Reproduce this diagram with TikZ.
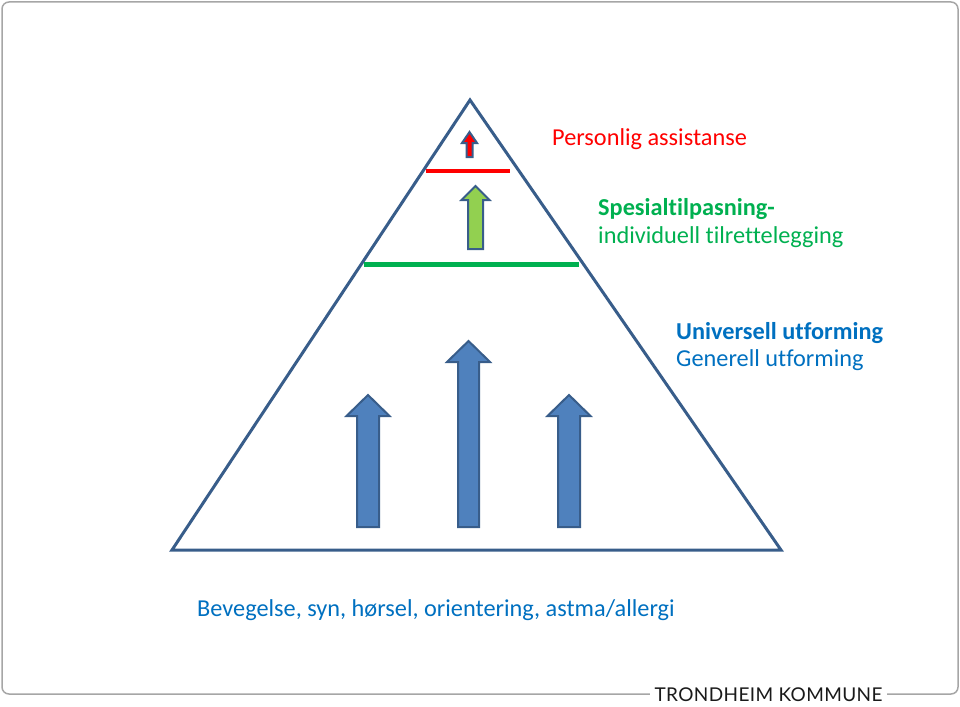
\documentclass[tikz,border=0pt]{standalone}
\usepackage{fontspec}
\setmainfont{Carlito}[Ligatures={NoCommon}]
\newfontfamily\logofont[LetterSpace=2]{Lato}
\definecolor{LineClr}{HTML}{385D8A}
\definecolor{ArrowClr}{HTML}{4F81BD}
\definecolor{LimeClr}{HTML}{92D050}
\definecolor{RedClr}{HTML}{FF0000}
\definecolor{GreenClr}{HTML}{00B050}
\definecolor{BlueClr}{HTML}{0070C0}
\definecolor{FrameClr}{HTML}{A6A6A6}
\definecolor{LogoClr}{HTML}{1A1A1A}

% block arrow: fill, x, tip y, head y, bottom y, head half width, shaft half width
\newcommand{\blockarrow}[7]{%
  \filldraw[arrowline,fill=#1] (#2,#3) -- (#2+#6,#4) -- (#2+#7,#4) -- (#2+#7,#5)
    -- (#2-#7,#5) -- (#2-#7,#4) -- (#2-#6,#4) -- cycle;}

\begin{document}
\begin{tikzpicture}[x=1pt,y=-1pt,
  arrowline/.style={draw=LineClr,line width=2pt,line join=miter},
  label/.style={anchor=base west,inner sep=0pt,font=\fontsize{24.3}{28}\selectfont}]
\useasboundingbox (0,0) rectangle (960,706);

% Frame of the slide.
\draw[FrameClr,line width=1.5pt,rounded corners=7pt] (2,2) rectangle (958,694);
\node[fill=white,inner xsep=5pt,inner ysep=2pt,text=LogoClr,
  font=\logofont\fontsize{19}{21}\selectfont] (logo) at (768.5,695) {TRONDHEIM KOMMUNE};

% Corners of the pyramid.
\coordinate (T) at (470,100);
\coordinate (L) at (172,550);
\coordinate (R) at (781,550);
\draw[LineClr,line width=3pt,line join=miter] (T) -- (L) -- (R) -- cycle;

% Levels.
\coordinate (r1) at (426,171);
\coordinate (r2) at (510,171);
\coordinate (g1) at (364,264);
\coordinate (g2) at (579,264);
\draw[RedClr,line width=4pt] (r1) -- (r2);
\draw[GreenClr,line width=5pt] (g1) -- (g2);

% Arrows.
\blockarrow{RedClr}{469.5}{132}{143}{157}{7.5}{3}
\blockarrow{LimeClr}{475.5}{186}{200}{249}{14}{7.5}
\blockarrow{ArrowClr}{368}{395}{416}{527}{21.5}{11}
\blockarrow{ArrowClr}{468.5}{341}{362}{527}{21.5}{10.5}
\blockarrow{ArrowClr}{569}{395}{416}{527}{21.5}{11}

% Texts.
\node[label,text=RedClr] (pers) at (552,146) {Personlig assistanse};
\node[label,text=GreenClr,font=\bfseries\fontsize{24.3}{28}\selectfont] (spes) at (598,215) {Spesialtilpasning-};
\node[label,text=GreenClr] (indiv) at (598,243) {individuell tilrettelegging};
\node[label,text=BlueClr,font=\bfseries\fontsize{24.3}{28}\selectfont] (univ) at (676,339) {Universell utforming};
\node[label,text=BlueClr] (gen) at (676,366) {Generell utforming};
\node[label,text=BlueClr] (beveg) at (197,616) {Bevegelse, syn, hørsel, orientering, astma/allergi};

\end{tikzpicture}
\end{document}
